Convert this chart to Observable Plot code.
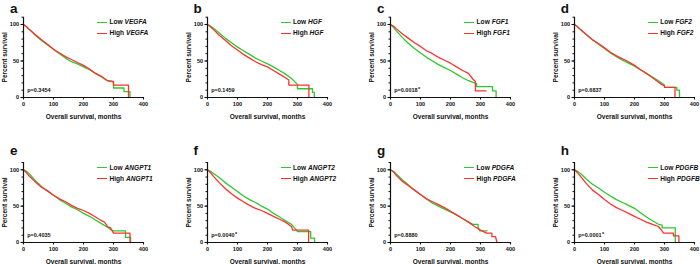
<!DOCTYPE html>
<html><head><meta charset="utf-8">
<script src="https://cdn.jsdelivr.net/npm/d3@7"></script>
<script src="https://cdn.jsdelivr.net/npm/@observablehq/plot@0.6"></script>
<style>
html,body{margin:0;padding:0;background:#fff;overflow:hidden}
#fig{position:relative;width:700px;height:264px;overflow:hidden;font-family:"Liberation Sans",Arial,sans-serif;color:#111}
.panel{position:absolute;overflow:visible}
.letter{position:absolute;font-weight:bold;font-size:13.5px;line-height:1}
.lg{position:absolute;font-weight:bold;font-size:6.6px;white-space:nowrap;display:flex;align-items:center;height:8px;line-height:1;color:#111}
.lg .sw{display:inline-block;width:10px;height:1.3px;margin-right:2.5px}
</style></head><body><div id="fig"></div>
<script>
// ---- text ----
const panelLetters = ["a","b","c","d","e","f","g","h"];
const genes = ["VEGFA","HGF","FGF1","FGF2","ANGPT1","ANGPT2","PDGFA","PDGFB"];
const pValues = ["p=0.3454","p=0.1459","p=0.0018","p=0.6837","p=0.4035","p=0.0040","p=0.8880","p=0.0001"];
const pStars = ["","","*","","","*","","*"];
const groups = ["Low","High"];
const xTitle = "Overall survival, months";
const yTitle = "Percent survival";
const xTicks = [0,100,200,300,400];
const yTicks = [0,50,100];
const yMinorTicks = [0,10,20,30,40,50,60,70,80,90,100,110];
const xDomain = [0,400];
const yDomain = [0,110];

// ---- survival curves [months, percent survival] ----
const vegfaLow  = [[0,100],[10,97],[20,93],[40,85],[60,78],[80,72],[100,66],[120,60],[140,54],[160,49],[180,46],[200,42],[220,38],[240,33],[260,28],[280,23],[300,21],[300,13],[335,13],[335,8],[355,8],[355,0]];
const vegfaHigh = [[0,100],[10,97],[20,93],[40,86],[60,79],[80,73],[100,66],[120,61],[140,56],[160,52],[180,48],[200,44],[220,39],[240,33],[260,29],[280,23],[300,22],[300,17],[350,17],[350,0]];
const hgfLow    = [[0,100],[10,98],[20,95],[40,88],[60,81],[80,75],[100,69],[120,64],[140,59],[160,54],[180,50],[200,46],[220,42],[240,37],[260,32],[280,26],[300,18],[300,12],[350,12],[350,7],[356,7],[356,0]];
const hgfHigh   = [[0,100],[10,97],[20,93],[40,85],[60,78],[80,71],[100,65],[120,59],[140,54],[160,49],[180,45],[200,42],[220,37],[240,32],[260,27],[271,24],[271,17],[338,17],[338,0]];
const fgf1Low   = [[0,100],[10,96],[20,91],[40,82],[60,74],[80,67],[100,61],[120,55],[140,50],[160,45],[180,41],[200,37],[220,32],[240,27],[260,23],[280,20],[287,19],[287,15],[340,15],[340,9],[352,9],[352,0]];
const fgf1High  = [[0,100],[10,98],[20,94],[40,87],[60,81],[80,75],[100,70],[120,64],[140,60],[160,55],[180,51],[200,47],[220,42],[240,37],[260,33],[275,25],[283,22],[283,9],[318,9]];
const fgf2Low   = [[0,100],[10,97],[20,93],[40,86],[60,79],[80,73],[100,67],[120,61],[140,56],[160,51],[180,47],[200,43],[220,38],[240,33],[260,28],[280,23],[300,17],[300,14],[341,14],[341,10],[350,10],[350,0]];
const fgf2High  = [[0,100],[10,97],[20,93],[40,86],[60,79],[80,74],[100,68],[120,62],[140,57],[160,53],[180,49],[200,44],[220,38],[240,33],[260,27],[280,21],[290,18],[300,16],[300,14],[335,14],[335,0]];
const angpt1Low  = [[0,100],[10,98],[20,94],[40,85],[60,77],[80,71],[100,65],[120,59],[140,54],[160,49],[180,45],[200,40],[220,36],[240,31],[260,26],[280,21],[290,18],[300,16],[340,16],[340,7],[357,7],[357,0]];
const angpt1High = [[0,100],[10,96],[20,91],[40,83],[60,76],[80,71],[100,65],[120,60],[140,56],[160,51],[180,47],[200,44],[220,40],[240,35],[260,30],[270,28],[280,22],[290,20],[300,13],[355,13],[355,0]];
const angpt2Low  = [[0,100],[10,98],[20,95],[40,89],[60,82],[80,76],[100,70],[120,64],[140,59],[160,55],[180,50],[200,46],[220,40],[240,35],[260,30],[280,25],[290,20],[300,15],[344,15],[344,6],[357,6],[357,0]];
const angpt2High = [[0,100],[10,96],[20,91],[40,82],[60,74],[80,67],[100,61],[120,56],[140,51],[160,47],[180,44],[200,40],[220,36],[240,32],[260,28],[280,22],[284,17],[337,17],[337,0]];
const pdgfaLow  = [[0,100],[10,98],[20,94],[40,86],[60,79],[80,72],[100,66],[120,60],[140,54],[160,50],[180,46],[200,42],[220,38],[240,33],[260,28],[275,25],[292,25],[292,21],[298,16],[322,16]];
const pdgfaHigh = [[0,100],[10,97],[20,92],[40,84],[60,78],[80,72],[100,66],[120,60],[140,56],[160,52],[180,48],[200,43],[220,38],[240,33],[260,28],[280,22],[300,17],[320,13],[338,13],[338,8],[350,8],[355,0]];
const pdgfbLow  = [[0,100],[10,98],[20,95],[40,87],[60,80],[80,75],[100,69],[120,64],[140,59],[160,55],[180,51],[200,47],[220,41],[240,35],[260,30],[280,25],[292,24],[292,20],[336,20],[336,0]];
const pdgfbHigh = [[0,100],[10,96],[20,91],[40,81],[60,72],[80,66],[100,59],[120,53],[140,48],[160,44],[180,40],[200,36],[220,32],[240,28],[260,25],[280,22],[290,17],[297,13],[330,13],[330,9],[348,9],[348,0]];

const lowSeries  = [vegfaLow, hgfLow, fgf1Low, fgf2Low, angpt1Low, angpt2Low, pdgfaLow, pdgfbLow];
const highSeries = [vegfaHigh, hgfHigh, fgf1High, fgf2High, angpt1High, angpt2High, pdgfaHigh, pdgfbHigh];

const GREEN = "#2cc82c", RED = "#ff3030";
const FONT = "'Liberation Sans', Arial, sans-serif";

const fig = document.getElementById("fig");
const rows = [
  {top: 0,   mt: 16.7, mb: 35, y100: 24,    letterTop: 1.6},
  {top: 132, mt: 30,   mb: 22, y100: 169.3, letterTop: 143.6}
];
const W = 183, ML = 23, MR = 40;

for (let i = 0; i < 8; i++) {
  const col = i % 4, R = rows[Math.floor(i / 4)];
  const ox = ML + col * 183.55;
  const data = [
    ...lowSeries[i].map(([t, s]) => ({t, s, g: "Low"})),
    ...highSeries[i].map(([t, s]) => ({t, s, g: "High"}))
  ];
  const svg = Plot.plot({
    width: W, height: 132,
    marginLeft: ML, marginRight: MR, marginTop: R.mt, marginBottom: R.mb,
    x: {domain: xDomain},
    y: {domain: yDomain},
    color: {domain: groups, range: [GREEN, RED]},
    style: `font-family:${FONT};font-weight:bold;font-size:5.5px;color:#111;background:transparent;overflow:visible;`,
    marks: [
      Plot.line(data, {x: "t", y: "s", z: "g", stroke: "g", strokeWidth: 1.3}),
      Plot.ruleX([xDomain[0]], {y1: yDomain[0], y2: yDomain[1], stroke: "#111", strokeWidth: 1.2}),
      Plot.ruleY([yDomain[0]], {x1: xDomain[0], x2: xDomain[1], stroke: "#111", strokeWidth: 1.2}),
      Plot.axisX(xTicks, {tickSize: 2.5, tickPadding: 2.2, label: null, fontSize: 5.6, fontWeight: "bold", stroke: "#111", strokeWidth: 1.1}),
      Plot.axisY(yTicks, {tickSize: 2.5, tickPadding: 1.8, label: null, fontSize: 5.6, fontWeight: "bold", stroke: "#111", strokeWidth: 1.1}),
      Plot.axisY(yMinorTicks, {tickSize: 1.5, text: null, label: null, stroke: "#111"}),
      Plot.text([pValues[i] + " "], {frameAnchor: "bottom-left", textAnchor: "start", lineAnchor: "middle", dx: 3.7, dy: -7, fontSize: 5.5, fontWeight: "bold", fill: "#111"}),
      Plot.text([pStars[i]], {frameAnchor: "bottom-left", textAnchor: "start", lineAnchor: "middle", dx: 27.6, dy: -8.2, fontSize: 5.5, fontWeight: "bold", fill: "#111"}),
      Plot.text([xTitle], {frameAnchor: "bottom", textAnchor: "middle", lineAnchor: "middle", dy: 19, fontSize: 6.5, fontWeight: "bold", fill: "#111"}),
      Plot.text([yTitle], {frameAnchor: "left", rotate: -90, textAnchor: "middle", lineAnchor: "middle", dx: -18.5, fontSize: 6.5, fontWeight: "bold", fill: "#111"})
    ]
  });
  svg.classList.add("panel");
  svg.style.left = (ox - ML) + "px";
  svg.style.top = R.top + "px";
  fig.appendChild(svg);

  const letter = document.createElement("div");
  letter.className = "letter";
  letter.textContent = panelLetters[i];
  letter.style.left = (ox - 13) + "px";
  letter.style.top = R.letterTop + "px";
  fig.appendChild(letter);

  [[groups[0], GREEN, -1.5], [groups[1], RED, 9.5]].forEach(([g, c, off]) => {
    const row = document.createElement("div");
    row.className = "lg";
    row.style.left = (ox + 74) + "px";
    row.style.top = (R.y100 + off - 4) + "px";
    const sw = document.createElement("span");
    sw.className = "sw";
    sw.style.background = c;
    row.appendChild(sw);
    const txt = document.createElement("span");
    txt.textContent = g + "\u00a0";
    row.appendChild(txt);
    const gene = document.createElement("i");
    gene.textContent = genes[i];
    row.appendChild(gene);
    fig.appendChild(row);
  });
}
</script></body></html>
